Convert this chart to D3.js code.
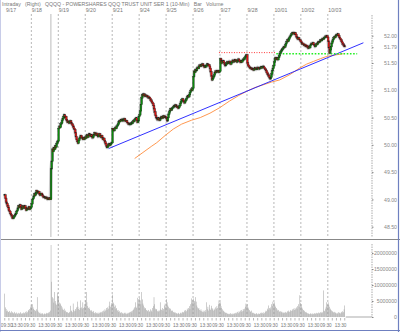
<!DOCTYPE html>
<html lang="en">
<head>
    <meta charset="UTF-8">
    <title>QQQQ 10-Min</title>
    <style>
        body { margin: 0; background: #fff; }
        text { font-family: "Liberation Sans", Arial, sans-serif; }
    </style>
</head>
<body></body>
<script src="https://cdn.jsdelivr.net/npm/d3@7"></script>
<script>
    let width = 400;
    let height = 332;

    // trading days shown on the top axis
    const dayLabels = ["9/17", "9/18", "9/19", "9/20", "9/21", "9/24", "9/25", "9/26", "9/27", "9/28", "10/01", "10/02", "10/03"];

    // 10-minute closes, one list per day
    const closes = [
        [49.08,49.02,48.95,48.92,48.88,48.85,48.80,48.78,48.74,48.72,48.70,48.66,48.65,48.68,48.70,48.72,48.74,48.78,48.80,48.84,48.88,48.86,48.90,48.86,48.82,48.85,48.88,48.84,48.86,48.88,48.84,48.80,48.84,48.82,48.83,48.86,48.82,48.84,48.86],
        [48.92,49.00,49.02,49.06,49.10,49.08,49.12,49.16,49.14,49.12,49.14,49.10,49.08,49.10,49.11,49.08,49.06,49.04,49.05,49.03,49.02,49.04,49.02,49.00,49.02,49.01,49.03,49.00,49.56,49.70,49.92,49.88,49.95,49.92,49.98,49.96,50.02,50.05,50.07],
        [50.30,50.34,50.32,50.38,50.40,50.45,50.48,50.52,50.55,50.50,50.52,50.46,50.44,50.41,50.43,50.40,50.42,50.44,50.40,50.38,50.36,50.33,50.30,50.28,50.22,50.15,50.10,50.06,50.03,50.08,50.12,50.14,50.17,50.14,50.12,50.10,50.13,50.10,50.14],
        [50.12,50.16,50.18,50.14,50.17,50.20,50.18,50.16,50.19,50.15,50.13,50.16,50.19,50.22,50.20,50.18,50.21,50.17,50.15,50.18,50.20,50.16,50.14,50.17,50.13,50.10,50.12,50.08,50.05,50.02,49.98,49.95,49.97,50.00,50.02,49.99,50.01,50.03,50.04],
        [50.30,50.28,50.26,50.30,50.32,50.30,50.34,50.36,50.38,50.42,50.44,50.43,50.46,50.45,50.47,50.44,50.46,50.48,50.45,50.43,50.44,50.41,50.40,50.38,50.39,50.37,50.38,50.40,50.39,50.42,50.44,50.43,50.46,50.48,50.49,50.45,50.41,50.44,50.52],
        [50.55,50.62,50.74,50.86,50.92,50.90,50.93,50.91,50.89,50.91,50.90,50.88,50.89,50.86,50.87,50.85,50.82,50.80,50.78,50.76,50.72,50.66,50.60,50.54,50.50,50.48,50.46,50.49,50.47,50.45,50.48,50.50,50.52,50.49,50.51,50.53,50.50,50.52,50.50],
        [50.48,50.44,50.50,50.56,50.60,50.63,50.66,50.64,50.67,50.68,50.70,50.72,50.70,50.73,50.71,50.69,50.70,50.67,50.69,50.72,50.76,50.79,50.82,50.84,50.81,50.79,50.77,50.80,50.82,50.85,50.88,50.90,50.88,50.92,50.96,50.99,51.02,51.00,51.04],
        [51.25,51.35,51.33,51.38,51.36,51.40,51.42,51.40,51.44,51.46,51.44,51.47,51.45,51.48,51.46,51.44,51.42,51.45,51.43,51.46,51.48,51.46,51.47,51.44,51.40,51.34,51.26,51.19,51.22,51.25,51.28,51.32,51.35,51.33,51.36,51.34,51.36,51.33,51.35],
        [51.58,51.55,51.50,51.52,51.54,51.51,51.48,51.45,51.47,51.50,51.52,51.49,51.51,51.53,51.50,51.48,51.51,51.53,51.55,51.52,51.54,51.56,51.53,51.55,51.52,51.54,51.57,51.55,51.53,51.51,51.54,51.52,51.55,51.57,51.56,51.59,51.61,51.63,51.65],
        [51.50,51.46,51.44,51.42,51.40,51.41,51.39,51.38,51.40,51.37,51.39,51.41,51.40,51.38,51.40,51.42,51.41,51.39,51.40,51.42,51.43,51.41,51.43,51.44,51.42,51.40,51.38,51.36,51.33,51.30,51.28,51.26,51.23,51.21,51.24,51.30,51.36,51.40,51.45],
        [51.52,51.58,51.60,51.57,51.59,51.56,51.60,51.63,51.67,51.70,51.72,51.74,51.76,51.78,51.80,51.79,51.83,51.86,51.89,51.92,51.90,51.94,51.97,51.99,52.01,52.03,52.05,52.04,52.06,52.03,52.05,52.02,51.98,51.96,51.94,51.96,51.93,51.92,51.90],
        [51.88,51.85,51.86,51.84,51.82,51.84,51.81,51.80,51.82,51.79,51.77,51.80,51.78,51.82,51.84,51.86,51.85,51.87,51.84,51.82,51.80,51.83,51.85,51.84,51.87,51.89,51.88,51.90,51.92,51.91,51.93,51.95,51.94,51.96,51.97,51.99,51.98,52.00,51.97],
        [51.90,51.78,51.68,51.74,51.80,51.86,51.90,51.93,51.96,51.98,51.97,52.00,52.02,52.01,52.03,52.00,51.97,51.95,51.93,51.90,51.88,51.85,51.83,51.81,51.80]
    ];

    // 10-minute volume in millions, one list per day
    const volumes = [
        [7.3,3.0,2.5,1.8,2.0,1.6,1.5,1.9,1.4,1.2,1.8,1.5,1.3,1.1,1.6,1.2,1.0,1.4,1.1,0.9,1.3,1.0,1.2,1.5,1.1,0.9,1.2,1.4,1.0,1.3,1.6,1.2,1.8,1.5,2.2,1.9,2.5,3.0,3.6],
        [3.6,4.0,3.0,2.5,2.2,2.0,1.8,2.4,6.2,2.0,1.5,1.2,1.4,1.0,1.1,0.9,1.2,0.8,1.0,1.1,0.9,1.3,1.0,1.2,1.4,1.1,1.6,2.0,22.5,11.0,6.2,5.8,4.5,7.8,5.0,4.2,3.8,7.6,6.5],
        [6.2,4.5,3.8,4.2,3.5,3.0,2.4,2.2,2.6,1.8,2.0,1.6,1.4,1.5,1.2,1.3,1.6,3.5,1.8,2.0,1.5,4.2,2.2,1.8,2.5,2.0,3.0,4.8,3.2,2.5,2.2,2.8,5.2,3.0,2.6,4.6,2.8,3.2,4.0],
        [5.2,7.8,4.6,3.4,2.8,3.0,2.5,2.0,2.2,1.8,1.6,1.9,1.4,1.2,1.5,1.0,1.3,1.1,1.4,1.0,1.2,1.6,1.3,1.5,1.8,1.4,2.0,1.7,2.4,2.0,2.8,2.2,3.0,2.6,3.5,4.8,3.2,3.8,4.4],
        [7.0,4.5,4.0,3.2,3.6,2.5,2.8,2.0,2.2,1.6,1.8,1.4,1.2,1.5,1.1,1.3,1.0,1.2,1.4,1.1,0.9,1.3,1.0,1.2,1.5,1.3,1.6,1.8,1.4,2.0,2.2,2.6,3.0,4.6,3.2,2.8,6.0,4.2,5.6],
        [6.0,5.2,4.0,7.8,5.5,4.2,3.6,3.0,2.5,2.8,2.2,2.0,1.8,2.2,1.6,1.8,2.4,2.0,1.6,2.8,3.4,6.2,4.0,2.6,2.2,2.5,1.8,2.0,1.6,2.0,4.6,2.4,2.2,2.8,2.0,2.5,3.6,4.2,3.0],
        [5.6,4.6,3.6,3.2,2.8,2.4,2.6,2.0,1.8,2.0,1.5,1.6,1.3,1.4,1.1,1.2,1.0,1.3,1.1,0.9,1.2,1.4,1.1,1.6,1.3,1.5,2.0,1.7,2.2,1.8,2.6,2.2,2.8,3.4,2.5,4.0,5.8,4.4,5.4],
        [5.8,4.5,5.0,6.2,4.8,3.6,3.0,2.6,2.8,2.2,2.0,2.4,1.8,1.6,2.0,1.5,1.8,2.2,1.6,4.6,2.4,3.2,2.0,3.8,2.6,2.2,3.5,2.8,2.4,2.0,2.6,2.2,3.0,2.6,3.4,2.8,4.0,5.2,4.4],
        [4.6,3.4,2.8,2.4,2.0,1.8,1.6,1.4,1.2,1.3,1.0,1.1,0.9,1.0,0.8,1.2,0.9,1.1,0.8,1.0,1.2,0.9,1.3,1.1,1.4,1.6,1.2,1.8,1.5,2.0,1.6,2.2,1.8,2.5,2.0,2.6,3.2,4.2,3.6],
        [4.0,3.0,2.6,2.2,1.8,1.6,2.0,1.4,1.2,1.3,1.0,1.1,0.9,1.2,1.0,0.8,1.1,0.9,1.0,1.2,1.4,1.1,1.3,1.0,1.5,1.2,1.6,2.0,1.8,2.6,2.2,3.6,2.8,2.4,3.0,4.0,3.4,4.8,4.2],
        [4.6,3.6,3.2,2.8,2.4,2.0,2.2,1.8,1.6,1.8,1.5,1.7,1.4,1.2,1.5,1.3,1.6,1.2,1.4,1.8,1.5,2.0,1.6,1.8,2.2,1.9,2.4,2.0,2.6,2.2,2.8,2.4,3.0,2.6,3.4,4.0,3.2,6.8,4.4],
        [4.0,3.0,2.6,2.2,2.0,1.8,1.5,1.6,1.3,1.2,1.0,1.1,0.9,1.0,1.2,0.9,1.1,0.8,1.0,1.2,0.9,1.1,1.3,1.0,1.2,1.4,1.1,1.3,1.5,1.2,1.6,1.4,8.3,2.0,1.8,2.6,3.2,4.6,3.8],
        [4.6,3.8,3.2,2.6,2.2,2.0,1.8,1.6,1.4,1.6,1.2,1.4,1.1,1.3,1.0,1.5,1.2,1.4,1.1,1.6,1.3,1.8,1.5,2.4,3.6]
    ];

    // moving average drawn in orange: [bar index, price]
    const maPoints = [[188,49.75],[200,49.86],[212,49.97],[220,50.04],[232,50.17],[244,50.29],[256,50.38],[270,50.45],[283,50.50],[297,50.58],[311,50.68],[325,50.80],[338,50.90],[350,50.98],[362,51.05],[374,51.10],[386,51.15],[398,51.19],[413,51.29],[427,51.41],[437,51.48],[447,51.53],[457,51.58],[466,51.62],[480,51.65],[490,51.67]];
    // trend line (blue) and the two dotted levels: [bar index, price]
    const trendLine = [[150,49.93],[519,51.87]];
    const resistance = [[310,51.69],[393,51.69]];
    const support = [[393,51.67],[510,51.67]];

    const priceTicks = [48.5, 49.0, 49.5, 50.0, 50.5, 51.0, 51.5, 51.79, 52.0];
    const volumeTicks = [0, 5000000, 10000000, 15000000, 20000000];
    const barsPerDay = 39;

    // flatten into one bar list
    let bars = [];
    let prev = closes[0][0];
    closes.forEach(function (day, d) {
        day.forEach(function (c, j) {
            bars.push({ i: d * barsPerDay + j, open: prev, close: c, vol: volumes[d][j] * 1e6 });
            prev = c;
        });
    });

    let svg = d3.select("body")
                .append("svg")
                .attr("width", width)
                .attr("height", height)
                .style("display", "block");

    const x = d3.scaleLinear().domain([0, 530]).range([4.74, 371]);
    const yP = d3.scaleLinear().domain([48.5, 52.0]).range([226.7, 35.7]);
    const yV = d3.scaleLinear().domain([0, 20000000]).range([317, 253]);
    const step = x(1) - x(0);
    const gridX = k => x(k * barsPerDay - 0.5);

    // header
    svg.append("text")
        .attr("x", 2).attr("y", 5.5)
        .attr("font-size", 5.2).attr("fill", "#777")
        .attr("xml:space", "preserve")
        .text("Intraday   (Right)   QQQQ - POWERSHARES QQQ TRUST UNIT SER 1 (10-Min)   Bar   Volume");

    // day gridlines
    const grid = svg.append("g").attr("stroke", "#999").attr("stroke-dasharray", "2,2").attr("stroke-width", 0.7);
    d3.range(1, dayLabels.length).forEach(function (k) {
        grid.append("line").attr("x1", gridX(k)).attr("x2", gridX(k)).attr("y1", 14).attr("y2", 237);
        grid.append("line").attr("x1", gridX(k)).attr("x2", gridX(k)).attr("y1", 244).attr("y2", 317);
    });

    // solid marker line through the 9/18 jump
    svg.append("line")
        .attr("x1", x(barsPerDay + 27.8)).attr("x2", x(barsPerDay + 27.8))
        .attr("y1", 14).attr("y2", 237)
        .attr("stroke", "#aaa").attr("stroke-width", 0.8);

    // date labels
    svg.append("g").selectAll("text")
        .data(dayLabels)
        .enter().append("text")
        .attr("x", (d, k) => k === 0 ? 6 : gridX(k) + 0.5)
        .attr("y", 11.5)
        .attr("font-size", 5.2).attr("fill", "#777")
        .text(d => d);

    // price axis (right)
    const pAxis = svg.append("g").attr("transform", "translate(372,0)");
    pAxis.append("line").attr("x1", 0).attr("x2", 0).attr("y1", 15).attr("y2", 237)
        .attr("stroke", "#888").attr("stroke-dasharray", "1.5,1").attr("stroke-width", 0.7);
    pAxis.call(d3.axisRight(yP).tickValues(priceTicks).tickSize(1.5).tickFormat(d3.format(".2f")))
        .call(g => g.select(".domain").remove())
        .call(g => g.selectAll("line").attr("stroke", "#888"))
        .call(g => g.selectAll("text").attr("x", 25).attr("text-anchor", "end")
            .attr("font-size", 5.2).attr("fill", "#888").attr("font-family", "Liberation Sans, Arial, sans-serif"));

    // volume axis (right)
    const vAxis = svg.append("g").attr("transform", "translate(372,0)");
    vAxis.append("line").attr("x1", 0).attr("x2", 0).attr("y1", 244).attr("y2", 317)
        .attr("stroke", "#888").attr("stroke-dasharray", "1.5,1").attr("stroke-width", 0.7);
    vAxis.call(d3.axisRight(yV).tickValues(volumeTicks).tickSize(1.5).tickFormat(d3.format("d")))
        .call(g => g.select(".domain").remove())
        .call(g => g.selectAll("line").attr("stroke", "#888"))
        .call(g => g.selectAll("text").attr("x", 25).attr("text-anchor", "end")
            .attr("font-size", 5.2).attr("fill", "#888").attr("font-family", "Liberation Sans, Arial, sans-serif"));

    // panel divider
    svg.append("line").attr("x1", 0).attr("x2", width).attr("y1", 239.5).attr("y2", 239.5)
        .attr("stroke", "#888").attr("stroke-width", 1);

    // moving average
    const line = d3.line().x(d => x(d[0])).y(d => yP(d[1]));
    svg.append("path").datum(maPoints).attr("d", line)
        .attr("fill", "none").attr("stroke", "#ff8c3c").attr("stroke-width", 0.9);

    // trend line
    svg.append("path").datum(trendLine).attr("d", line)
        .attr("fill", "none").attr("stroke", "#1a1aff").attr("stroke-width", 0.9);

    // dotted levels
    svg.append("path").datum(resistance).attr("d", line)
        .attr("fill", "none").attr("stroke", "#ff2020").attr("stroke-width", 0.9).attr("stroke-dasharray", "1,1.5");
    svg.append("path").datum(support).attr("d", line)
        .attr("fill", "none").attr("stroke", "#22ee22").attr("stroke-width", 1.6).attr("stroke-dasharray", "1.6,1.6");

    // soft grey halo under the candles, per day
    const closeLine = d3.line().x(d => x(d.i)).y(d => yP(d.close));
    svg.append("g").selectAll("path")
        .data(d3.groups(bars, d => Math.floor(d.i / barsPerDay)).map(g => g[1]))
        .enter().append("path")
        .attr("d", closeLine)
        .attr("fill", "none").attr("stroke", "#d2d2d2").attr("stroke-width", 3.4)
        .attr("stroke-linejoin", "round").attr("stroke-linecap", "round");

    // candles
    const candleW = 1.8;
    svg.append("g").selectAll("rect")
        .data(bars)
        .enter().append("rect")
        .attr("x", d => x(d.i) - candleW / 2)
        .attr("y", d => yP(Math.max(d.open, d.close)) - 0.3)
        .attr("width", candleW)
        .attr("height", d => Math.max(1.0, Math.abs(yP(d.open) - yP(d.close)) + 0.6))
        .attr("fill", d => d.close >= d.open ? "#0a8a0a" : "#e01010")
        .attr("stroke", "#222")
        .attr("stroke-width", 0.35);

    // volume bars
    svg.append("g").selectAll("rect")
        .data(bars)
        .enter().append("rect")
        .attr("x", d => x(d.i) - step * 0.35)
        .attr("y", d => yV(d.vol))
        .attr("width", step * 0.7)
        .attr("height", d => yV(0) - yV(d.vol))
        .attr("fill", "#999");

    // volume baseline after last bar
    svg.append("line").attr("x1", x(bars[bars.length - 1].i) + 1).attr("x2", 372)
        .attr("y1", 317).attr("y2", 317).attr("stroke", "#888").attr("stroke-width", 0.7);

    // bottom time labels and ticks
    svg.append("g").selectAll("line")
        .data(d3.range(0, bars.length, 6))
        .enter().append("line")
        .attr("x1", d => x(bars[d].i)).attr("x2", d => x(bars[d].i))
        .attr("y1", 318).attr("y2", 320.5)
        .attr("stroke", "#888").attr("stroke-width", 0.6);
    const openLabels = d3.range(0, dayLabels.length);
    const midLabels = d3.range(1, dayLabels.length + 1);
    const timeG = svg.append("g").attr("font-size", 4.7).attr("fill", "#777");
    timeG.selectAll(".open")
        .data(openLabels)
        .enter().append("text")
        .attr("class", "open")
        .attr("x", k => Math.max(0.8, gridX(k) - 7.8))
        .attr("y", 327)
        .text("09:30");
    timeG.selectAll(".mid")
        .data(midLabels)
        .enter().append("text")
        .attr("class", "mid")
        .attr("x", k => gridX(k) - 8.4)
        .attr("y", 327)
        .attr("text-anchor", "end")
        .text("13:30");

    // frame
    svg.append("line").attr("x1", 0.5).attr("x2", 0.5).attr("y1", 0).attr("y2", height)
        .attr("stroke", "#c8cce8").attr("stroke-width", 1);
    svg.append("line").attr("x1", 398.5).attr("x2", 398.5).attr("y1", 0).attr("y2", height)
        .attr("stroke", "#6f80c0").attr("stroke-width", 1.2);
    svg.append("line").attr("x1", 0).attr("x2", width).attr("y1", 330.5).attr("y2", 330.5)
        .attr("stroke", "#6f80c0").attr("stroke-width", 1.2);
</script>
</html>
